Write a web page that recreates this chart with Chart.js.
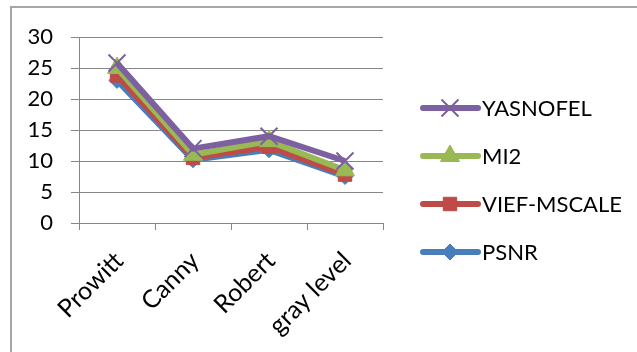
<!DOCTYPE html>
<html>
<head>
<meta charset="utf-8">
<script src="https://cdn.jsdelivr.net/npm/chart.js@4"></script>
<style>
html,body{margin:0;padding:0;background:#fff;}
#wrap{width:637px;height:352px;position:relative;}
</style>
</head>
<body>
<div id="wrap"><canvas id="c" width="637" height="352"></canvas></div>
<script>
const categories = ["Prowitt", "Canny", "Robert", "gray level"];
const yasnofel = [25.8, 12.0, 14.0, 10.0];
const mi2 = [25.0, 11.0, 13.2, 8.5];
const viefMscale = [23.8, 10.5, 12.3, 7.8];
const psnr = [23.0, 10.2, 11.8, 7.5];
const yTicks = [0, 5, 10, 15, 20, 25, 30];

const FONT = "Lato";

const datasets = [
  {label: "YASNOFEL", data: yasnofel, borderColor: "#7D60A0", backgroundColor: "#7D60A0",
   pointStyle: "crossRot", pointRadius: 12, pointBorderWidth: 2, pointBorderColor: "#7D60A0"},
  {label: "MI2", data: mi2, borderColor: "#98B954", backgroundColor: "#98B954",
   pointStyle: "triangle", pointRadius: 11, pointBorderWidth: 1, pointBorderColor: "#98B954"},
  {label: "VIEF-MSCALE", data: viefMscale, borderColor: "#BE4B48", backgroundColor: "#BE4B48",
   pointStyle: "rect", pointRadius: 9.5, pointBorderWidth: 1, pointBorderColor: "#BE4B48"},
  {label: "PSNR", data: psnr, borderColor: "#4A7EBB", backgroundColor: "#4A7EBB",
   pointStyle: "rectRot", pointRadius: 8, pointBorderWidth: 1, pointBorderColor: "#4A7EBB"}
];
datasets.forEach(d => { d.borderWidth = 6; d.tension = 0; d.fill = false; d.pointHoverRadius = d.pointRadius; });

const framePlugin = {
  id: "frame",
  beforeDraw(chart) {
    const ctx = chart.ctx;
    ctx.save();
    ctx.strokeStyle = "#a6a6a6";
    ctx.lineWidth = 2;
    ctx.beginPath();
    ctx.moveTo(11, 352); ctx.lineTo(11, 7); ctx.lineTo(637, 7);
    ctx.stroke();
    ctx.restore();
  }
};

const legendPlugin = {
  id: "customLegend",
  afterDraw(chart) {
    const ctx = chart.ctx;
    const x0 = 423, x1 = 478, xm = 450, tx = 482;
    const ys = [108, 156, 204, 252];
    ctx.save();
    chart.data.datasets.forEach((ds, i) => {
      const y = ys[i];
      ctx.strokeStyle = ds.borderColor;
      ctx.lineWidth = 6;
      ctx.lineCap = "round";
      ctx.beginPath(); ctx.moveTo(x0, y); ctx.lineTo(x1, y); ctx.stroke();
      ctx.lineCap = "butt";
      ctx.fillStyle = ds.backgroundColor;
      ctx.strokeStyle = ds.borderColor;
      ctx.lineWidth = ds.pointBorderWidth;
      Chart.helpers.drawPoint(ctx, {pointStyle: ds.pointStyle, rotation: 0, radius: ds.pointRadius, borderWidth: ds.pointBorderWidth}, xm, y);
      ctx.fillStyle = "#000";
      ctx.font = "22px " + FONT;
      ctx.textBaseline = "middle";
      ctx.textAlign = "left";
      ctx.fillText(ds.label, tx, y + 1);
    });
    ctx.restore();
  }
};

new Chart(document.getElementById("c"), {
  type: "line",
  data: {labels: categories, datasets: datasets},
  plugins: [framePlugin, legendPlugin],
  options: {
    responsive: false,
    animation: false,
    devicePixelRatio: 1,
    layout: {padding: {left: 0, right: 254, top: 37, bottom: 0}},
    plugins: {legend: {display: false}, tooltip: {enabled: false}},
    scales: {
      x: {
        offset: true,
        afterFit(s) { s.height = 129; },
        grid: {offset: true, drawOnChartArea: false, color: "#868686", tickLength: 7, lineWidth: 1},
        border: {display: true, color: "#868686", width: 1},
        ticks: {color: "#000", font: {family: FONT, size: 25}, minRotation: 45, maxRotation: 45, padding: 16, labelOffset: 2, autoSkip: false}
      },
      y: {
        min: 0, max: 30,
        afterFit(s) { s.width = 79; },
        afterBuildTicks(s) { s.ticks = yTicks.map(v => ({value: v})); },
        grid: {color: "#868686", tickLength: 8, lineWidth: 1},
        border: {display: true, color: "#868686", width: 1},
        ticks: {color: "#000", font: {family: FONT, size: 22}, padding: 18}
      }
    }
  }
});
</script>
</body>
</html>
